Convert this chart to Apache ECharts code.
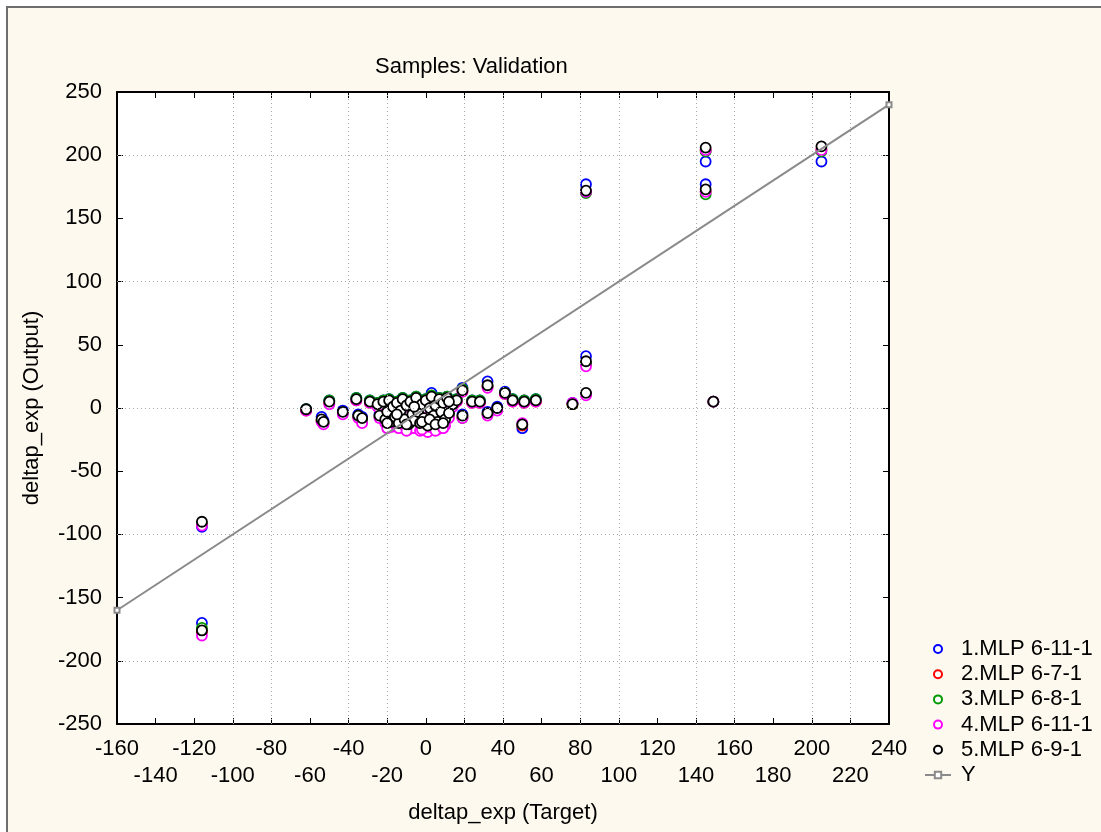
<!DOCTYPE html>
<html>
<head>
<meta charset="utf-8">
<script src="https://cdn.jsdelivr.net/npm/echarts@6/dist/echarts.min.js"></script>
<style>
html,body{margin:0;padding:0;background:#fff;}
#chart{width:1101px;height:832px;}
</style>
</head>
<body>
<div id="chart"></div>
<script>
// ---- data ----
const targets = [
  -116,-116,-62,-54,-53,-50,-43,-36,-35,-33,-29,
  -25,-24,-22,-21,-20,-19,-18,-17,-16,-15,-14,-13,-12,-11,-10,-9,-8,-7,-6,-5,-4,-3,-2,-1,0,1,2,3,4,5,6,7,8,9,10,11,12,14,16,
  -20,-15,-10,-6,-2,2,5,9,12,
  19,19,24,28,32,32,37,41,45,50,51,57,
  76,83,83,83,145,145,149,205];
const mlp1 = [
  -94,-170,-1,-7,-10,6,-2,8,-5,-7,6,
  4,-5,6,-8,-2,7,-10,2,-6,5,-11,-1,8,-8,3,-12,6,-4,-9,9,-2,-11,4,-7,7,-12,1,12,-5,3,-10,8,-2,5,-8,9,-3,4,7,
  -11,-4,-12,2,-10,-8,-12,-11,6,
  16,-5,6,6,21,-3,1,13,7,-16,6,7,
  4,177,41,11,195,177,5,195];
const mlp2 = [
  -92,-177,-2,-10,-12,4,-4,6,-7,-9,4,
  2,-7,4,-10,-4,5,-12,0,-8,3,-13,-3,6,-10,1,-14,4,-6,-11,7,-4,-13,2,-9,5,-15,-1,8,-7,1,-12,6,-4,3,-10,7,-5,2,5,
  -13,-6,-14,0,-12,-10,-14,-13,4,
  13,-7,4,4,17,-5,-1,11,5,-14,4,5,
  3,171,35,11,204,171,5,205];
const mlp3 = [
  -92,-174,-1,-10,-12,6,-4,8,-7,-10,6,
  4,-7,6,-10,-4,7,-12,2,-8,5,-13,-3,8,-10,3,-14,6,-6,-11,9,-4,-13,4,-9,7,-15,1,10,-7,3,-12,8,-4,5,-10,9,-5,4,7,
  -13,-6,-14,2,-12,-10,-14,-13,6,
  15,-8,6,6,17,-5,-1,12,7,-13,6,7,
  3,170,35,11,203,169,5,203];
const mlp4 = [
  -93,-180,-2,-11,-13,3,-5,6,-8,-12,4,
  1,-8,3,-12,-6,3,-15,-2,-11,1,-16,-6,4,-14,-3,-17,0,-11,-16,3,-9,-18,-4,-15,0,-19,-6,4,-12,-4,-17,2,-9,-1,-14,4,-8,1,5,
  -16,-9,-18,-5,-17,-15,-18,-16,3,
  13,-8,4,4,16,-6,-2,11,5,-12,4,5,
  4,171,33,10,204,171,5,204];
const mlp5 = [
  -90,-176,-1,-9,-11,5,-3,7,-6,-8,5,
  3,-6,5,-9,-3,6,-11,1,-7,4,-12,-2,7,-9,2,-13,5,-5,-10,8,-3,-12,3,-8,6,-14,0,9,-6,2,-11,7,-3,4,-9,8,-4,3,6,
  -12,-5,-13,1,-11,-9,-13,-12,5,
  14,-6,5,5,18,-4,0,12,6,-13,5,6,
  3,172,37,12,206,173,5,207];
const seriesNames = ['1.MLP 6-11-1','2.MLP 6-7-1','3.MLP 6-8-1','4.MLP 6-11-1','5.MLP 6-9-1'];
const seriesColors = ['#0000ff','#ff0000','#009900','#ff00ff','#000000'];
const identityLine = [[-160,-160],[240,240]];
const xGridValues = [-100,-80,-40,-20,20,40,80,100,140,160,200,220];
const yGridValues = [-200,-100,0,100,200];

const outputs = [mlp1, mlp2, mlp3, mlp4, mlp5];
const chart = echarts.init(document.getElementById('chart'));
const FONT = '"Liberation Sans", Arial, sans-serif';
const FS = 22;
const gridLineStyle = {color:'#a8a8a8', width:1, type:[1,3]};

const scatterSeries = outputs.map((arr, k) => ({
  name: seriesNames[k],
  type: 'scatter',
  symbol: 'circle',
  symbolSize: 10,
  itemStyle: {color:'#ffffff', borderColor: seriesColors[k], borderWidth: 1.8, opacity: 1},
  data: arr.map((v, i) => [targets[i], v]),
  z: 3,
  animation: false
}));

const gridSeries = {
  type: 'line', name: '_grid', data: [], silent: true, z: 1, animation:false,
  markLine: {
    silent: true, symbol: 'none', animation: false,
    label: {show:false},
    lineStyle: gridLineStyle,
    emphasis: {disabled:true},
    data: xGridValues.map(v => ({xAxis: v})).concat(yGridValues.map(v => ({yAxis: v})))
  }
};

const lineSeries = {
  name: 'Y', type: 'line', data: identityLine,
  symbol: 'emptyRect', symbolSize: 5, showSymbol: true,
  lineStyle: {color:'#8a8a8a', width: 2},
  itemStyle: {color:'#8a8a8a'},
  z: 5, animation: false
};

const axisCommon = {
  axisLine: {show:true, onZero:false, lineStyle:{color:'#000', width:2}},
  axisTick: {show:true, inside:true, length:6, lineStyle:{color:'#000', width:1}},
  splitLine: {show:false}
};
const xLabelBase = {fontFamily: FONT, fontSize: FS, color:'#000', lineHeight: 27,
  showMinLabel: true, showMaxLabel: true, hideOverlap: false};

chart.setOption({
  backgroundColor: '#ffffff',
  animation: false,
  graphic: [{
    type:'rect', z:-10, silent:true,
    shape:{x:7, y:7, width:1200, height:1000},
    style:{fill:'#fef9ee', stroke:'#6e6e6e', lineWidth:2}
  }],
  title: {
    text: 'Samples: Validation',
    left: 370, top: 51,
    textStyle: {fontFamily: FONT, fontSize: FS, fontWeight: 'normal', color: '#000'}
  },
  legend: {
    orient: 'vertical', left: 919, top: 633,
    itemWidth: 26, itemHeight: 8, itemGap: 3.2,
    textStyle: {fontFamily: FONT, fontSize: FS, color:'#000', lineHeight: 22, padding:[0,0,0,5]},
    data: seriesNames.concat(['Y'])
  },
  grid: {left:117, right:212, top:92, bottom:108, show:true, backgroundColor:'#ffffff', borderWidth:0},
  xAxis: [
    Object.assign({}, axisCommon, {
      type:'value', position:'bottom', offset:0, min:-160, max:240, interval:20,
      name: 'deltap_exp (Target)', nameLocation:'middle', nameGap: 78,
      nameTextStyle: {fontFamily: FONT, fontSize: FS, color:'#000'},
      axisLabel: Object.assign({}, xLabelBase, {margin: 11,
        formatter: (v, i) => (i % 2 === 0 ? String(v) : '')})
    }),
    Object.assign({}, axisCommon, {
      type:'value', position:'top', offset:0, min:-160, max:240, interval:20,
      axisLabel:{show:false}
    }),
    {
      type:'value', position:'bottom', offset:0, min:-160, max:240, interval:20,
      axisLine:{show:false}, axisTick:{show:false}, splitLine:{show:false},
      axisLabel: Object.assign({}, xLabelBase, {margin: 38,
        formatter: (v, i) => (i % 2 === 1 ? String(v) : '')})
    }
  ],
  yAxis: [
    Object.assign({}, axisCommon, {
      type:'value', position:'left', min:-250, max:250, interval:50,
      name: 'deltap_exp (Output)', nameLocation:'middle', nameGap: 74, nameRotate: 90,
      nameTextStyle: {fontFamily: FONT, fontSize: FS, color:'#000'},
      axisLabel: {fontFamily: FONT, fontSize: FS, color:'#000', margin: 15, showMinLabel: true, showMaxLabel: true}
    }),
    Object.assign({}, axisCommon, {
      type:'value', position:'right', min:-250, max:250, interval:50,
      axisLabel:{show:false}
    })
  ],
  series: [gridSeries].concat(scatterSeries).concat([lineSeries])
});
</script>
</body>
</html>
